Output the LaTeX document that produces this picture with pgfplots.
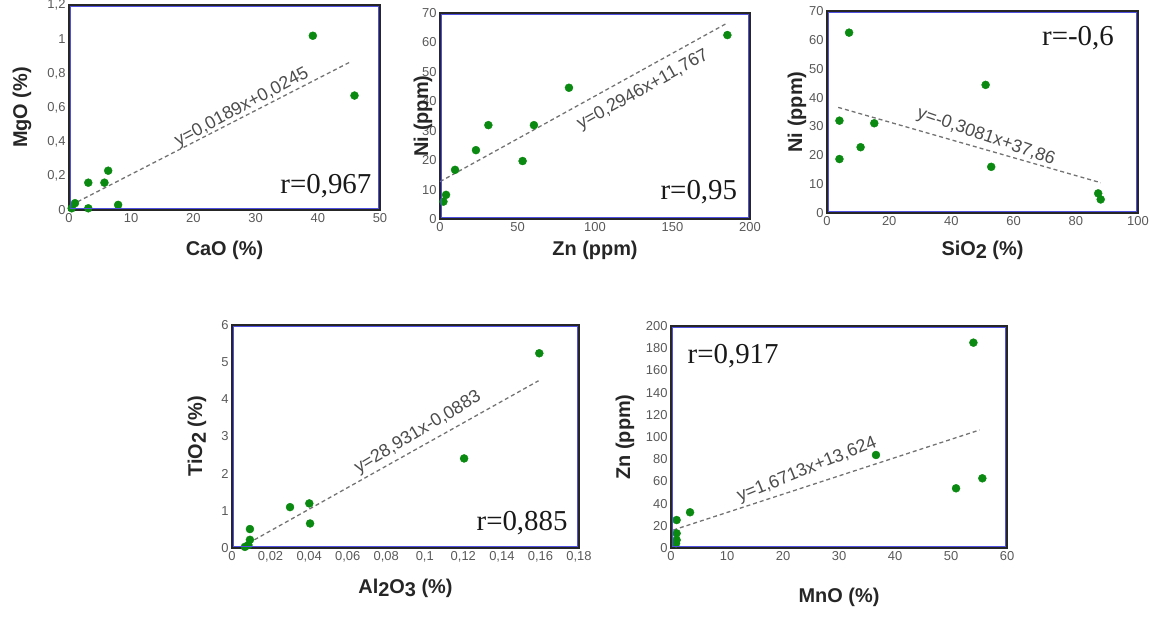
\documentclass[border=0pt]{standalone}
\usepackage{fontspec}
\setmainfont{Liberation Sans}
\newfontfamily\tnr{Liberation Serif}
\usepackage{pgfplots}
\pgfplotsset{compat=1.18}

\definecolor{ptgreen}{HTML}{0B8A12}
\definecolor{framebl}{HTML}{5050E0}

\pgfplotsset{
  panel/.style={
    scale only axis,
    clip=false,
    axis line style={draw=black!85, line width=2bp},
    tick style={draw=none},
    ticklabel style={font=\fontsize{13}{15}\selectfont, text=black!65},
    /pgf/number format/assume math mode=true,
    /pgf/number format/use comma,
    after end axis/.code={
      \draw[framebl, line width=1bp]
        ([xshift=1.6bp,yshift=1.6bp]rel axis cs:0,0) rectangle
        ([xshift=-1.6bp,yshift=-1.6bp]rel axis cs:1,1);
    },
  },
  xlab/.style={every axis x label/.style={at={(rel axis cs:0.5,0)}, yshift=-#1,
    anchor=center, font=\fontsize{20}{24}\selectfont\bfseries, text=black!85}},
  ylab/.style={every axis y label/.style={at={(rel axis cs:0,0.5)}, xshift=-#1,
    rotate=90, anchor=center, font=\fontsize{20}{24}\selectfont\bfseries, text=black!85}},
  pts/.style={only marks, mark=*, mark size=4bp,
    mark options={fill=ptgreen, draw=ptgreen}},
  trend/.style={no marks, black!55, line width=1.3bp,
    dash pattern=on 4bp off 3bp},
}
\tikzset{
  eq/.style={font=\fontsize{18}{20}\selectfont, text=black!70},
  rval/.style={font=\tnr\fontsize{29}{32}\selectfont, text=black!90},
}
\newcommand{\sub}[1]{\raisebox{-0.35ex}{#1}}

\begin{document}
\begin{tikzpicture}
\useasboundingbox (0bp,0bp) rectangle (1163bp,-617bp);

% CaO - MgO
\begin{axis}[panel, at={(69bp,-210bp)}, anchor=south west,
  width=311bp, height=205bp,
  xmin=0, xmax=50, ymin=0, ymax=1.2,
  xtick={0,10,...,50}, ytick={0,0.2,0.4,0.6,0.8,1,1.2},
  xlabel={CaO (\%)}, ylabel={MgO (\%)},
  xlab=40bp, ylab=47bp,
]
\addplot[trend] coordinates {(0.4,0.03) (45.4,0.87)};
\addplot[pts] coordinates {
  (0.43,0.01) (0.96,0.04) (3.1,0.16) (3.1,0.01) (5.7,0.16)
  (6.3,0.23) (7.9,0.03) (39.2,1.02) (45.9,0.67)
};
\node[eq, rotate=28] at (rel axis cs:0.556,0.50) {y=0,0189x+0,0245};
\node[rval] at (rel axis cs:0.826,0.117) {r=0,967};
\end{axis}

% Zn - Ni
\begin{axis}[panel, at={(440bp,-219bp)}, anchor=south west,
  width=310bp, height=206bp,
  xmin=0, xmax=200, ymin=0, ymax=70,
  xtick={0,50,...,200}, ytick={0,10,...,70},
  xlabel={Zn (ppm)}, ylabel={Ni (ppm)},
  xlab=31bp, ylab=17bp,
]
\addplot[trend] coordinates {(0,12.7) (185,66.5)};
\addplot[pts] coordinates {
  (2.2,5.9) (3.9,8.2) (9.7,16.7) (23.2,23.4) (31.2,31.9)
  (53.3,19.7) (60.6,31.9) (83.2,44.6) (185.4,62.5)
};
\node[eq, rotate=29] at (rel axis cs:0.655,0.626) {y=0,2946x+11,767};
\node[rval] at (rel axis cs:0.835,0.131) {r=0,95};
\end{axis}

% SiO2 - Ni
\begin{axis}[panel, at={(827bp,-213bp)}, anchor=south west,
  width=311bp, height=202bp,
  xmin=0, xmax=100, ymin=0, ymax=70,
  xtick={0,20,...,100}, ytick={0,10,...,70},
  xlabel={SiO\sub{2} (\%)}, ylabel={Ni (ppm)},
  xlab=37bp, ylab=30bp,
]
\addplot[trend] coordinates {(3.6,36.6) (88.0,10.5)};
\addplot[pts] coordinates {
  (4.0,32.0) (4.0,18.7) (7.1,62.5) (10.8,22.8) (15.2,31.1)
  (51.0,44.4) (52.8,16.0) (87.2,6.8) (88.0,4.7)
};
\node[eq, rotate=-19] at (rel axis cs:0.511,0.376) {y=-0,3081x+37,86};
\node[rval] at (rel axis cs:0.807,0.866) {r=-0,6};
\end{axis}

% Al2O3 - TiO2
\begin{axis}[panel, at={(232bp,-548bp)}, anchor=south west,
  width=347bp, height=223bp,
  xmin=0, xmax=0.18, ymin=0, ymax=6,
  xtick={0,0.02,...,0.18}, ytick={0,1,...,6},
  xticklabels={0,{0,02},{0,04},{0,06},{0,08},{0,1},{0,12},{0,14},{0,16},{0,18}},
  xlabel={Al\sub{2}O\sub{3} (\%)}, ylabel={TiO\sub{2} (\%)},
  xlab=40bp, ylab=35bp,
]
\addplot[trend] coordinates {(0.0085,0.13) (0.159,4.50)};
\addplot[pts] coordinates {
  (0.0067,0.03) (0.0085,0.08) (0.0093,0.22) (0.0093,0.51) (0.0301,1.10)
  (0.0401,1.20) (0.0405,0.66) (0.1204,2.41) (0.1594,5.24)
};
\node[eq, rotate=31] at (rel axis cs:0.536,0.516) {y=28,931x-0,0883};
\node[rval] at (rel axis cs:0.836,0.112) {r=0,885};
\end{axis}

% MnO - Zn
\begin{axis}[panel, at={(671bp,-548bp)}, anchor=south west,
  width=336bp, height=222bp,
  xmin=0, xmax=60, ymin=0, ymax=200,
  xtick={0,10,...,60}, ytick={0,20,...,200},
  xlabel={MnO (\%)}, ylabel={Zn (ppm)},
  xlab=49bp, ylab=46bp,
]
\addplot[trend] coordinates {(0.4,16.2) (55.1,106.3)};
\addplot[pts] coordinates {
  (1.0,25.2) (1.0,13.2) (1.0,7.2) (0.9,4.2) (3.4,32.2)
  (36.6,83.8) (50.9,53.8) (55.6,62.8) (54.0,185.0)
};
\node[eq, rotate=22] at (rel axis cs:0.405,0.351) {y=1,6713x+13,624};
\node[rval] at (rel axis cs:0.185,0.865) {r=0,917};
\end{axis}
\end{tikzpicture}
\end{document}
